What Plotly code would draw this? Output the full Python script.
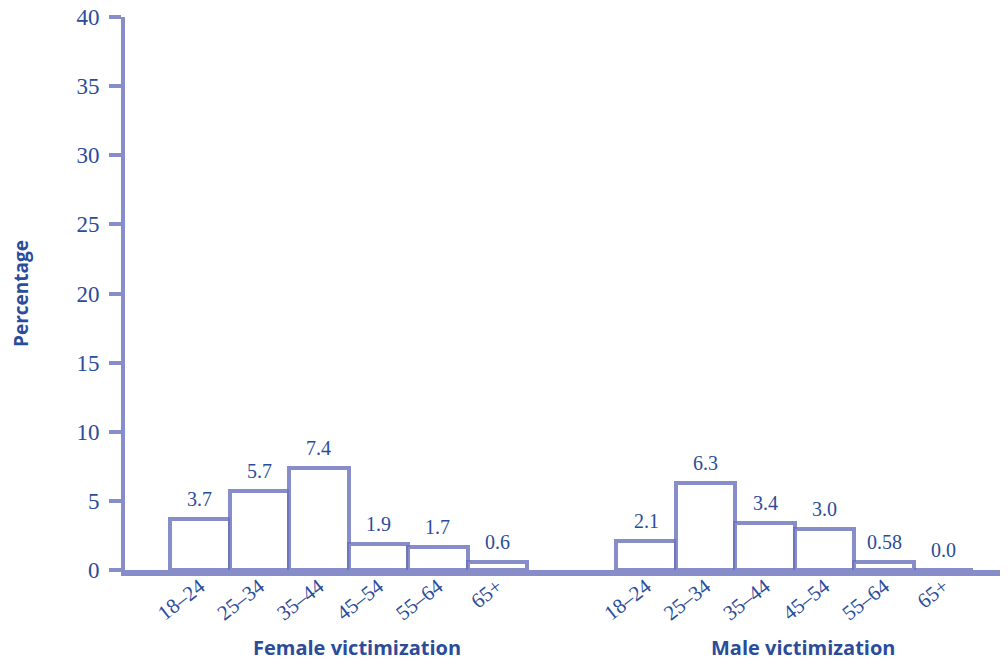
import plotly.graph_objects as go

age_groups = ["18–24", "25–34", "35–44", "45–54", "55–64", "65+"]
female_values = [3.7, 5.7, 7.4, 1.9, 1.7, 0.6]
male_values = [2.1, 6.3, 3.4, 3.0, 0.58, 0.0]
female_labels = ["3.7", "5.7", "7.4", "1.9", "1.7", "0.6"]
male_labels = ["2.1", "6.3", "3.4", "3.0", "0.58", "0.0"]
y_ticks = [0, 5, 10, 15, 20, 25, 30, 35, 40]

female_x = [i for i in range(len(age_groups))]
male_x = [i + 7.5 for i in range(len(age_groups))]

TXT = "#2b4c9b"
LINE = "rgba(105,112,188,0.8)"
NUMFONT = "Liberation Serif"

fig = go.Figure()
for xs, vals in [(female_x, female_values), (male_x, male_values)]:
    fig.add_trace(go.Bar(
        x=xs, y=vals, width=1,
        marker=dict(color="white", line=dict(color=LINE, width=4)),
        showlegend=False, hoverinfo="skip",
    ))

for xs, vals, labs in [(female_x, female_values, female_labels), (male_x, male_values, male_labels)]:
    for x, v, t in zip(xs, vals, labs):
        fig.add_annotation(x=x, y=v, text=t, showarrow=False, yanchor="bottom",
                           yshift=7, font=dict(family=NUMFONT, size=20, color=TXT))

fig.add_annotation(x=(sum(female_x) / 6 + 0.15 + 1.256) / 14.84, y=-0.14, xref="paper", yref="paper",
                   text="<b>Female victimization</b>", xanchor="center", yanchor="middle",
                   showarrow=False, font=dict(family="Open Sans", size=20, color=TXT))
fig.add_annotation(x=(sum(male_x) / 6 + 0.15 + 1.256) / 14.84, y=-0.14, xref="paper", yref="paper",
                   text="<b>Male victimization</b>", xanchor="center", yanchor="middle",
                   showarrow=False, font=dict(family="Open Sans", size=20, color=TXT))

fig.update_layout(
    width=1000, height=654,
    margin=dict(l=117, r=0, t=9, b=92),
    plot_bgcolor="white", paper_bgcolor="white",
    bargap=0,
    xaxis=dict(
        range=[-1.256, 13.58], automargin=False,
        tickmode="array", tickvals=female_x + male_x, ticktext=age_groups + age_groups,
        tickangle=-38, ticks="", showgrid=False, zeroline=False,
        showline=True, linecolor=LINE, linewidth=6,
        ticklabelstandoff=-10,
        tickfont=dict(family=NUMFONT, size=21, color=TXT),
    ),
    yaxis=dict(
        range=[0, 40], tickvals=y_ticks, showgrid=False, zeroline=False, automargin=False,
        showline=True, linecolor=LINE, linewidth=4,
        ticks="outside", ticklen=12, tickwidth=4, tickcolor=LINE,
        ticklabelstandoff=5, ticklabeloverflow="allow",
        tickfont=dict(family=NUMFONT, size=23, color=TXT),
        title=dict(text="<b>Percentage</b>", standoff=52,
                   font=dict(family="Open Sans", size=19, color=TXT)),
    ),
)

fig.write_html("out.html")
